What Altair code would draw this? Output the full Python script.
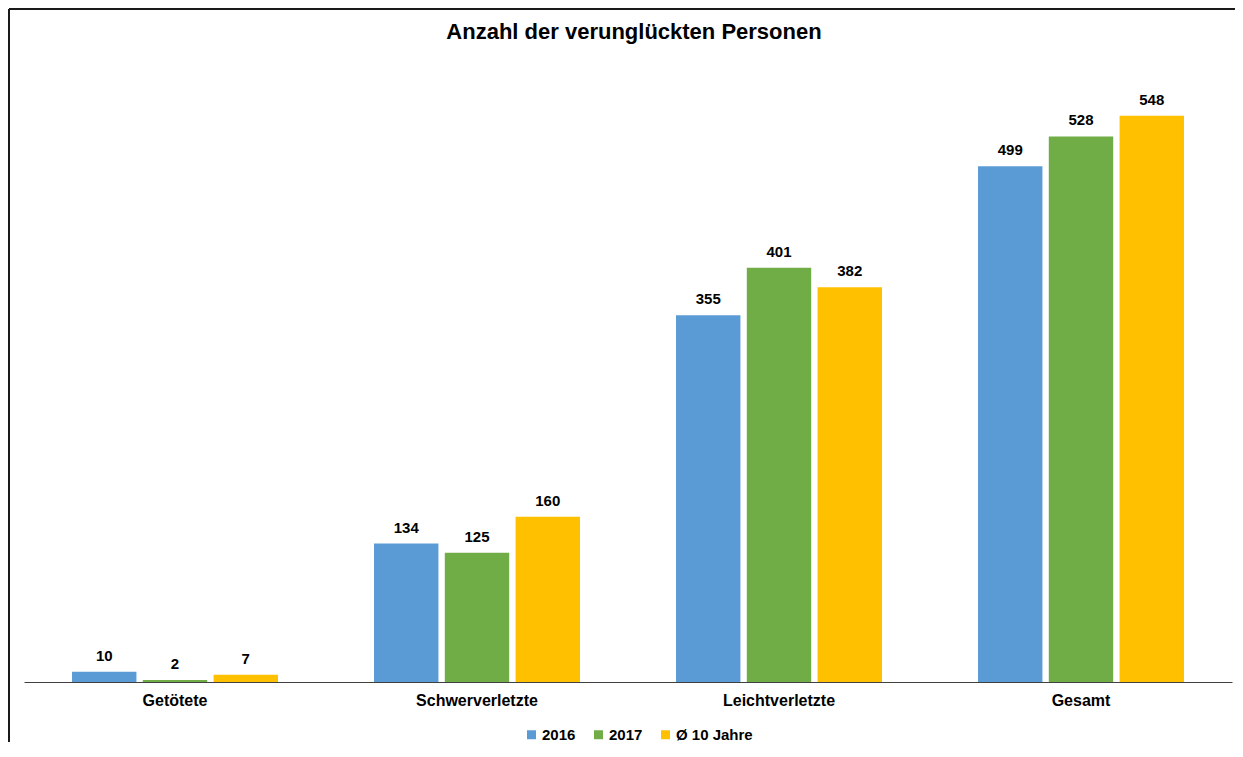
import altair as alt
import pandas as pd

categories = ["Getötete", "Schwerverletzte", "Leichtverletzte", "Gesamt"]
series = ["2016", "2017", "Ø 10 Jahre"]
values_2016 = [10, 134, 355, 499]
values_2017 = [2, 125, 401, 528]
values_avg = [7, 160, 382, 548]
colors = ["#5B9BD5", "#70AD47", "#FFC000"]
title_text = "Anzahl der verunglückten Personen"

rows = []
for s, vals in zip(series, [values_2016, values_2017, values_avg]):
    for c, v in zip(categories, vals):
        rows.append({"Kategorie": c, "Serie": s, "Anzahl": v})
df = pd.DataFrame(rows)

FONT = "Liberation Sans"

base = alt.Chart(df).encode(
    x=alt.X(
        "Kategorie:N",
        sort=categories,
        scale=alt.Scale(paddingInner=0.318, paddingOuter=0.159),
        axis=alt.Axis(
            title=None, labelAngle=0, ticks=False, domainColor="#404040",
            domainWidth=1, labelFont=FONT, labelFontSize=16,
            labelFontWeight="bold", labelColor="black", labelPadding=10,
            grid=False,
        ),
    ),
    xOffset=alt.XOffset("Serie:N", sort=series,
                        scale=alt.Scale(paddingInner=0.09, paddingOuter=0)),
    y=alt.Y("Anzahl:Q", scale=alt.Scale(domain=[0, 600]), axis=None),
)

bars = base.mark_bar().encode(
    color=alt.Color(
        "Serie:N", sort=series,
        scale=alt.Scale(domain=series, range=colors),
        legend=alt.Legend(
            title=None, orient="none", legendX=500, legendY=665,
            direction="horizontal", symbolType="square", symbolSize=81,
            symbolStrokeWidth=0, labelFont=FONT, labelFontSize=15,
            labelFontWeight="bold", labelColor="black", labelOffset=3,
            columnPadding=15, padding=0,
        ),
    )
)

labels = base.mark_text(
    baseline="alphabetic", dy=-11, font=FONT, fontSize=15,
    fontWeight="bold", color="black",
).encode(text="Anzahl:Q")

frame_data = alt.Data(values=[{}])
frame_left = alt.Chart(frame_data).mark_rule(color="#1a1a1a", strokeWidth=2).encode(
    x=alt.value(-15), y=alt.value(-53), y2=alt.value(680)
)
frame_top = alt.Chart(frame_data).mark_rule(color="#1a1a1a", strokeWidth=2).encode(
    x=alt.value(-15), x2=alt.value(1211), y=alt.value(-53)
)
title = alt.Chart(frame_data).mark_text(
    font=FONT, fontSize=22, fontWeight="bold", color="black",
    align="center", baseline="alphabetic",
).encode(x=alt.value(610), y=alt.value(-23), text=alt.value(title_text))

chart = alt.layer(frame_left, frame_top, title, bars, labels).properties(
    width=1208,
    height=620,
    autosize=alt.AutoSizeParams(type="none"),
    padding={"left": 16, "top": 54, "right": 3, "bottom": 60},
).configure_view(stroke=None)

chart.save("out.html", embed_options={"renderer": "svg", "actions": False})
